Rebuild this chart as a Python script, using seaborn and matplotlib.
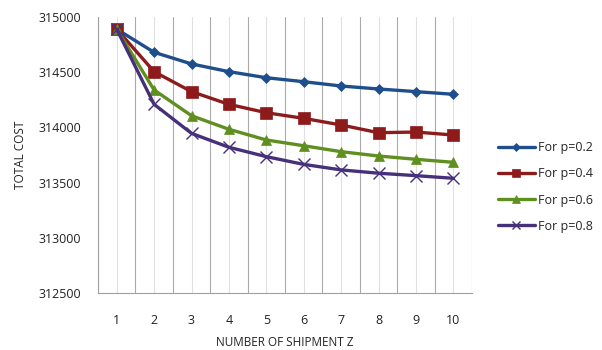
import matplotlib
matplotlib.use("Agg")
import matplotlib.pyplot as plt
import seaborn as sns
import pandas as pd

shipments = [1, 2, 3, 4, 5, 6, 7, 8, 9, 10]
cost_p02 = [314890, 314680, 314575, 314505, 314450, 314414, 314375, 314348, 314324, 314300]
cost_p04 = [314890, 314505, 314324, 314209, 314133, 314082, 314022, 313952, 313958, 313931]
cost_p06 = [314890, 314339, 314106, 313983, 313886, 313834, 313780, 313741, 313711, 313684]
cost_p08 = [314890, 314209, 313946, 313820, 313735, 313665, 313615, 313585, 313563, 313539]
series_names = ["For p=0.2", "For p=0.4", "For p=0.6", "For p=0.8"]
y_ticks = [312500, 313000, 313500, 314000, 314500, 315000]

sns.set_theme(style="white")
plt.rcParams["font.family"] = ["Open Sans", "DejaVu Sans"]

frames = []
for name, vals in zip(series_names, [cost_p02, cost_p04, cost_p06, cost_p08]):
    frames.append(pd.DataFrame({"z": shipments, "cost": vals, "series": name}))
df = pd.concat(frames, ignore_index=True)

colors = {"For p=0.2": "#1F4E8C", "For p=0.4": "#8E1B1B",
          "For p=0.6": "#5F8F1F", "For p=0.8": "#47307A"}
markers = {"For p=0.2": "D", "For p=0.4": "s", "For p=0.6": "^", "For p=0.8": "x"}
msizes = {"For p=0.2": 5.5, "For p=0.4": 8.5, "For p=0.6": 7.5, "For p=0.8": 8}

fig = plt.figure(figsize=(6.02, 3.5), dpi=100)
ax = fig.add_axes([98 / 602, 1 - 293 / 350, (472 - 98) / 602, (293 - 17) / 350])

for name in series_names:
    sub = df[df["series"] == name]
    sns.lineplot(data=sub, x="z", y="cost", ax=ax, color=colors[name],
                 marker=markers[name], markersize=msizes[name], linewidth=2.4,
                 markeredgewidth=1.0 if markers[name] == "x" else 0.5,
                 markeredgecolor=colors[name], label=name)

ax.set_xlim(0.5, 10.5)
ax.set_ylim(312500, 315000)
ax.set_yticks(y_ticks)
ax.set_xticks(shipments)

# vertical gridlines at category centres (light) and boundaries (darker)
for x in shipments:
    ax.axvline(x, color="#E0E0E0", linewidth=0.8, zorder=0)
for b in [i + 0.5 for i in range(0, 11)]:
    ax.axvline(b, color="#ABABAB", linewidth=0.8, zorder=0)

for side in ["top", "right"]:
    ax.spines[side].set_visible(False)
ax.spines["left"].set_color("#A0A0A0")
ax.spines["bottom"].set_color("#A0A0A0")
ax.spines["left"].set_linewidth(0.8)
ax.spines["bottom"].set_linewidth(0.8)

ax.tick_params(axis="both", length=0, labelsize=9, colors="#222222")
ax.tick_params(axis="x", pad=15)
ax.tick_params(axis="y", pad=12)

ax.set_xlabel("")
ax.set_ylabel("")
fig.text(285 / 602, 1 - 343 / 350, "NUMBER OF SHIPMENT Z", fontsize=8.5,
         color="#222222", ha="center", va="center")
fig.text(20 / 602, 1 - 155 / 350, "TOTAL COST", fontsize=8.5, color="#222222",
         ha="center", va="center", rotation=90)

ax.legend(loc="center left", bbox_to_anchor=(487 / 602, 1 - 187 / 350),
          bbox_transform=fig.transFigure, frameon=False, fontsize=9,
          handlelength=2.9, labelspacing=1.05, handletextpad=0.3, markerscale=0.7)

fig.savefig("out.png", dpi=100)
